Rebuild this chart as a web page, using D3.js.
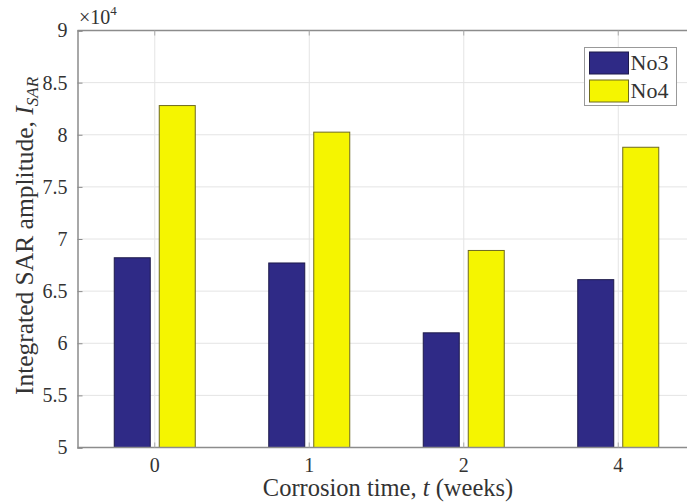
<!DOCTYPE html>
<html>
<head>
<meta charset="utf-8">
<script src="https://cdn.jsdelivr.net/npm/d3@7"></script>
<style>
  body { margin: 0; background: #fff; }
  svg text { font-family: "Liberation Serif", "Times New Roman", "DejaVu Serif", serif !important; fill: #333; }
</style>
</head>
<body>
<div class="container"></div>
<script>
const categories = ["0", "1", "2", "4"];
const seriesNames = ["No3", "No4"];
const no3Values = [68200, 67700, 61000, 66100];
const no4Values = [82800, 80250, 68900, 78800];
const yTicks = [50000, 55000, 60000, 65000, 70000, 75000, 80000, 85000, 90000];
const colors = ["#2f2a86", "#f5f500"];
const edges = ["#1e1a4a", "#6e6a20"];

const width = 687;
const height = 504;
const margin = {left: 77.5, top: 30.5, bottom: 447.5};

const svg = d3.select(".container").append("svg").attr("width", width).attr("height", height);

const x = d3.scaleBand().domain(categories).range([margin.left, margin.left + 4 * 154.5]);
const xInner = d3.scaleBand().domain(seriesNames).range([-40.5, 40.5]).paddingInner(0.2);
const y = d3.scaleLinear().domain([50000, 90000]).range([margin.bottom, margin.top]);

const right = margin.left + 4 * 154.5;

// grid
const grid = svg.append("g").attr("class", "grid");
grid.selectAll("line.h").data(yTicks.slice(1, -1)).enter().append("line")
    .attr("x1", margin.left).attr("x2", right)
    .attr("y1", d => y(d)).attr("y2", d => y(d))
    .attr("stroke", "#e4e4e4").attr("stroke-width", 1);
grid.selectAll("line.v").data(categories).enter().append("line")
    .attr("x1", d => x(d) + x.bandwidth() / 2).attr("x2", d => x(d) + x.bandwidth() / 2)
    .attr("y1", margin.top).attr("y2", margin.bottom)
    .attr("stroke", "#e4e4e4").attr("stroke-width", 1);

// bars
const rows = categories.map((c, i) => ({cat: c, vals: [no3Values[i], no4Values[i]]}));
const groups = svg.append("g").selectAll("g").data(rows).enter().append("g")
    .attr("transform", d => `translate(${x(d.cat) + x.bandwidth() / 2},0)`);
groups.selectAll("rect").data(d => d.vals.map((v, j) => ({v: v, s: seriesNames[j], j: j})))
    .enter().append("rect")
      .attr("x", d => xInner(d.s))
      .attr("width", xInner.bandwidth())
      .attr("y", d => y(d.v))
      .attr("height", d => y(50000) - y(d.v))
      .attr("fill", d => colors[d.j])
      .attr("stroke", d => edges[d.j])
      .attr("stroke-width", 1);

// axes box
const axisColor = "#8c8c8c";
svg.append("line").attr("x1", margin.left).attr("x2", right).attr("y1", margin.top).attr("y2", margin.top)
    .attr("stroke", axisColor).attr("stroke-width", 1.5);
svg.append("line").attr("x1", margin.left).attr("x2", right).attr("y1", margin.bottom).attr("y2", margin.bottom)
    .attr("stroke", axisColor).attr("stroke-width", 1.5);

const yAxis = d3.axisLeft(y).tickValues(yTicks).tickSize(-5).tickPadding(10)
    .tickFormat(d => d3.format("~g")(d / 1e4));
svg.append("g").attr("transform", `translate(${margin.left},0)`).call(yAxis)
    .call(g => g.select(".domain").attr("stroke", axisColor).attr("stroke-width", 1.5))
    .call(g => g.selectAll(".tick line").attr("stroke", axisColor))
    .call(g => g.selectAll(".tick text").attr("font-size", 20).attr("fill", "#333"));

const xAxis = d3.axisBottom(x).tickSize(-5).tickPadding(10);
svg.append("g").attr("transform", `translate(0,${margin.bottom})`).call(xAxis)
    .call(g => g.select(".domain").remove())
    .call(g => g.selectAll(".tick line").attr("stroke", "#aaa"))
    .call(g => g.selectAll(".tick text").attr("font-size", 20).attr("fill", "#333"));

// top ticks
svg.append("g").selectAll("line").data(categories).enter().append("line")
    .attr("x1", d => x(d) + x.bandwidth() / 2).attr("x2", d => x(d) + x.bandwidth() / 2)
    .attr("y1", margin.top).attr("y2", margin.top + 5).attr("stroke", "#aaa");

// exponent
const expo = svg.append("text").attr("x", 79).attr("y", 24).attr("font-size", 20);
expo.append("tspan").text("×10");
expo.append("tspan").attr("font-size", 13).attr("dy", -9).text("4");

// labels
const xl = svg.append("text").attr("x", 388).attr("y", 496).attr("text-anchor", "middle").attr("font-size", 24.5);
xl.append("tspan").text("Corrosion time, ");
xl.append("tspan").attr("font-style", "italic").text("t");
xl.append("tspan").text(" (weeks)");

const yl = svg.append("text").attr("transform", "translate(33,236) rotate(-90)")
    .attr("text-anchor", "middle").attr("font-size", 25.5);
yl.append("tspan").text("Integrated SAR amplitude, ");
yl.append("tspan").attr("font-style", "italic").text("I");
yl.append("tspan").attr("font-style", "italic").attr("font-size", 17).attr("dy", 5).text("SAR");

// legend
const legend = svg.append("g").attr("transform", "translate(584.5,47.5)");
legend.append("rect").attr("width", 92).attr("height", 58).attr("fill", "#fff").attr("stroke", "#999");
legend.selectAll("rect.sw").data(seriesNames).enter().append("rect")
    .attr("x", 5).attr("y", (d, i) => 4.5 + i * 28).attr("width", 39).attr("height", 22)
    .attr("fill", (d, i) => colors[i]).attr("stroke", (d, i) => edges[i]);
legend.selectAll("text").data(seriesNames).enter().append("text")
    .attr("x", 46).attr("y", (d, i) => 22 + i * 28).attr("font-size", 22).text(d => d);
</script>
</body>
</html>
